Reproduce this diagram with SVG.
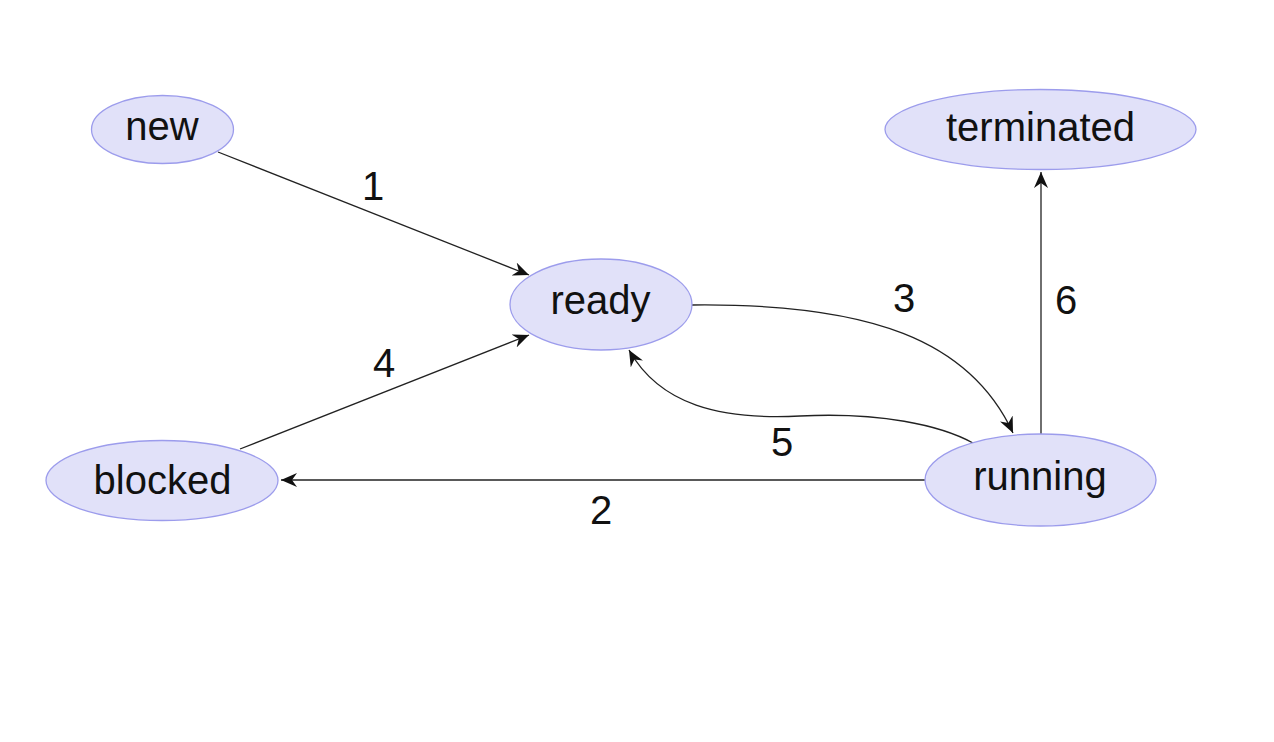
<svg xmlns="http://www.w3.org/2000/svg" width="1274" height="742" viewBox="0 0 1274 742">
<style>
.node ellipse{fill:#e1e1f9;stroke:#9c9cec;stroke-width:1.3}
.node text,.lbl{font-family:"Liberation Sans",Arial,sans-serif;font-size:40px;fill:#111;text-anchor:middle}
.edge{fill:none;stroke:#222;stroke-width:1.3;marker-end:url(#ah)}
</style>
<defs>
<marker id="ah" markerUnits="userSpaceOnUse" markerWidth="18" markerHeight="14" refX="16" refY="7" orient="auto">
<path d="M0,0 L16,7 L0,14 L5,7 z" fill="#111"/>
</marker>
</defs>
<rect width="1274" height="742" fill="#fff"/>
<g id="connectors">
<path class="edge" d="M218,152 L529,275"/>
<path class="edge" d="M240,449 L529,335"/>
<path class="edge" d="M925,480 L281,480"/>
<path class="edge" d="M1041,434 L1041,172"/>
<path class="edge" d="M692,305 C870,303 970,340 1013,433"/>
<path class="edge" d="M973,443 C940,425 880,412 800,416 C720,420 660,405 629,350"/>
<text class="lbl" x="373" y="200">1</text>
<text class="lbl" x="601" y="524">2</text>
<text class="lbl" x="904" y="312">3</text>
<text class="lbl" x="384" y="377">4</text>
<text class="lbl" x="782" y="456">5</text>
<text class="lbl" x="1066" y="314">6</text>
</g>
<g id="node-new" class="node"><ellipse cx="162.5" cy="129.5" rx="71" ry="34"/><text x="162" y="140">new</text></g>
<g id="node-ready" class="node"><ellipse cx="601" cy="304.5" rx="91" ry="45.5"/><text x="600.5" y="314">ready</text></g>
<g id="node-terminated" class="node"><ellipse cx="1040.5" cy="129.5" rx="155.5" ry="40"/><text x="1040.5" y="141">terminated</text></g>
<g id="node-blocked" class="node"><ellipse cx="162" cy="480.5" rx="116" ry="40"/><text x="162.5" y="494">blocked</text></g>
<g id="node-running" class="node"><ellipse cx="1040.5" cy="480" rx="115.5" ry="46"/><text x="1040" y="490">running</text></g>
</svg>
